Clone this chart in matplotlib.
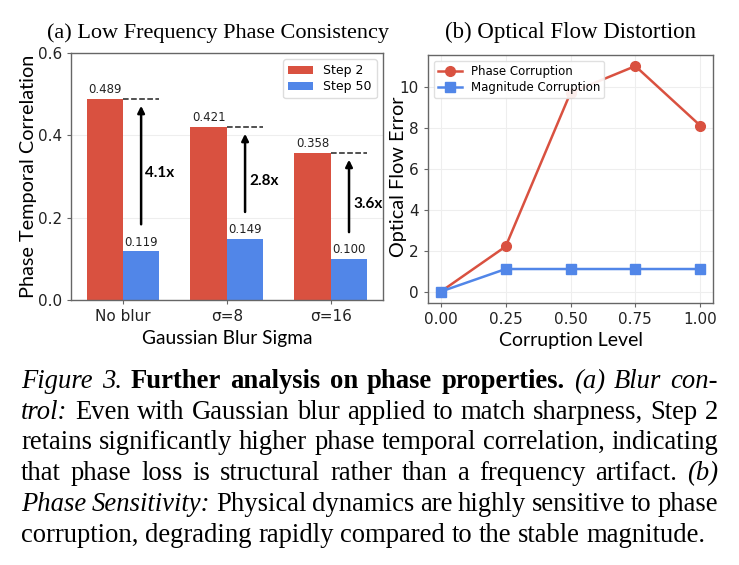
import matplotlib
matplotlib.use('Agg')
import matplotlib.pyplot as plt
import numpy as np

# ---- data ----
groups = ['No blur', 'σ=8', 'σ=16']
step2 = [0.489, 0.421, 0.358]
step50 = [0.119, 0.149, 0.100]
ratios = ['4.1x', '2.8x', '3.6x']

levels = [0.0, 0.25, 0.50, 0.75, 1.00]
phase_err = [0.0, 2.2, 9.7, 11.0, 8.1]
mag_err = [0.0, 1.1, 1.1, 1.1, 1.1]

RED = '#d95140'
BLUE = '#5186e8'
SPINE = '#666666'

caption_lines = [
    [('Figure 3.', 'it'), ('Further analysis on phase properties.', 'bf'), ('(a) Blur con-', 'it')],
    [('trol:', 'it'), ('Even with Gaussian blur applied to match sharpness, Step 2', 'rm')],
    [('retains significantly higher phase temporal correlation, indicating', 'rm')],
    [('that phase loss is structural rather than a frequency artifact.', 'rm'), ('(b)', 'it')],
    [('Phase Sensitivity:', 'it'), ('Physical dynamics are highly sensitive to phase', 'rm')],
    [('corruption, degrading rapidly compared to the stable magnitude.', 'rm')],
]

fig = plt.figure(figsize=(7.39, 5.65), dpi=100)


def style_axes(ax):
    for s in ax.spines.values():
        s.set_color(SPINE)
        s.set_linewidth(1.0)
    ax.tick_params(colors='#222222', labelsize=11, length=3, color=SPINE)
    for lab in ax.get_xticklabels() + ax.get_yticklabels():
        lab.set_family('DejaVu Sans')


# ---- (a) bars ----
ax1 = fig.add_axes([0.096, 0.469, 0.422, 0.437])
x = np.arange(len(groups))
w = 0.35
ax1.bar(x - w / 2, step2, w, color=RED, label='Step 2', zorder=2)
ax1.bar(x + w / 2, step50, w, color=BLUE, label='Step 50', zorder=2)
ax1.set_xlim(-0.5, 2.5)
ax1.set_ylim(0, 0.6)
ax1.set_yticks([0.0, 0.2, 0.4, 0.6])
ax1.set_xticks(x)
ax1.set_xticklabels(groups)
ax1.yaxis.grid(True, color='#eeeeee', linewidth=0.8, zorder=0)
for i in range(len(groups)):
    ax1.text(x[i] - w / 2, step2[i] + 0.006, f'{step2[i]:.3f}', ha='center', va='bottom',
             fontsize=8.5, family='DejaVu Sans', color='#222222')
    ax1.text(x[i] + w / 2, step50[i] + 0.006, f'{step50[i]:.3f}', ha='center', va='bottom',
             fontsize=8.5, family='DejaVu Sans', color='#222222')
    ax1.plot([x[i], x[i] + w], [step2[i], step2[i]], '--', color='#222222', linewidth=1.1, zorder=3)
    ax_x = x[i] + w / 2
    ax1.annotate('', xy=(ax_x, step2[i] - 0.017), xytext=(ax_x, step50[i] + 0.065),
                 arrowprops=dict(arrowstyle='-|>', color='black', lw=1.8, mutation_scale=10,
                                 shrinkA=0, shrinkB=0))
    ax1.text(ax_x + 0.04, (step2[i] + step50[i]) / 2 + 0.005, ratios[i], ha='left', va='center',
             fontsize=11, family='Lato', weight='bold')
ax1.legend(loc='upper right', prop=dict(family='DejaVu Sans', size=9), handlelength=2.0,
           borderpad=0.4, labelspacing=0.25, framealpha=1, edgecolor='#dddddd', fancybox=True)
ax1.set_ylabel('Phase Temporal Correlation', family='Lato', size=14.3)
ax1.yaxis.set_label_coords(-0.11, 0.5)
ax1.set_xlabel('Gaussian Blur Sigma', family='Lato', size=13.8)
ax1.set_title('(a) Low Frequency Phase Consistency', pad=11, x=0.47,
              family='Liberation Serif', size=16)
style_axes(ax1)

# ---- (b) lines ----
ax2 = fig.add_axes([0.579, 0.464, 0.386, 0.439])
ax2.plot(levels, phase_err, '-o', color=RED, linewidth=1.8, markersize=7, label='Phase Corruption', zorder=3)
ax2.plot(levels, mag_err, '-s', color=BLUE, linewidth=1.8, markersize=7, label='Magnitude Corruption', zorder=3)
ax2.set_xticks(levels)
ax2.set_xticklabels([f'{v:.2f}' for v in levels])
ax2.set_yticks([0, 2, 4, 6, 8, 10])
ax2.grid(True, color='#eeeeee', linewidth=0.8, zorder=0)
ax2.legend(loc='upper left', prop=dict(family='DejaVu Sans', size=8.5), handlelength=2.0,
           borderpad=0.35, labelspacing=0.25, framealpha=0.9, edgecolor='#dddddd')
ax2.set_ylabel('Optical Flow Error', family='Lato', size=14.3)
ax2.yaxis.set_label_coords(-0.074, 0.51)
ax2.set_xlabel('Corruption Level', family='Lato', size=14)
ax2.set_title('(b) Optical Flow Distortion', pad=12, family='Liberation Serif', size=16.5)
style_axes(ax2)

# ---- caption, justified by hand ----
cap_size = 19.2
styles = {'rm': dict(style='normal', weight='normal'),
          'it': dict(style='italic', weight='normal'),
          'bf': dict(style='normal', weight='bold')}
fig.canvas.draw()
renderer = fig.canvas.get_renderer()
left_px, right_px = 21, 718
W, H = fig.bbox.width, fig.bbox.height
y0 = 388
line_h = 30.7

space_t = fig.text(0, 0, 'a a', family='Liberation Serif', size=cap_size)
aa = fig.text(0, 0, 'aa', family='Liberation Serif', size=cap_size)
space_w = space_t.get_window_extent(renderer).width - aa.get_window_extent(renderer).width
space_t.remove()
aa.remove()

for li, line in enumerate(caption_lines):
    words = []
    for seg, st in line:
        for wd in seg.split(' '):
            words.append((wd, st))
    arts = []
    for wd, st in words:
        t = fig.text(0, 0, wd, family='Liberation Serif', size=cap_size, va='baseline', **styles[st])
        arts.append(t)
    widths = [t.get_window_extent(renderer).width for t in arts]
    last = li == len(caption_lines) - 1
    gap = space_w if last else (right_px - left_px - sum(widths)) / (len(arts) - 1)
    xp = left_px
    yb = H - (y0 + li * line_h)
    for t, wd in zip(arts, widths):
        t.set_position((xp / W, yb / H))
        xp += wd + gap

fig.savefig('out.png', dpi=100)
